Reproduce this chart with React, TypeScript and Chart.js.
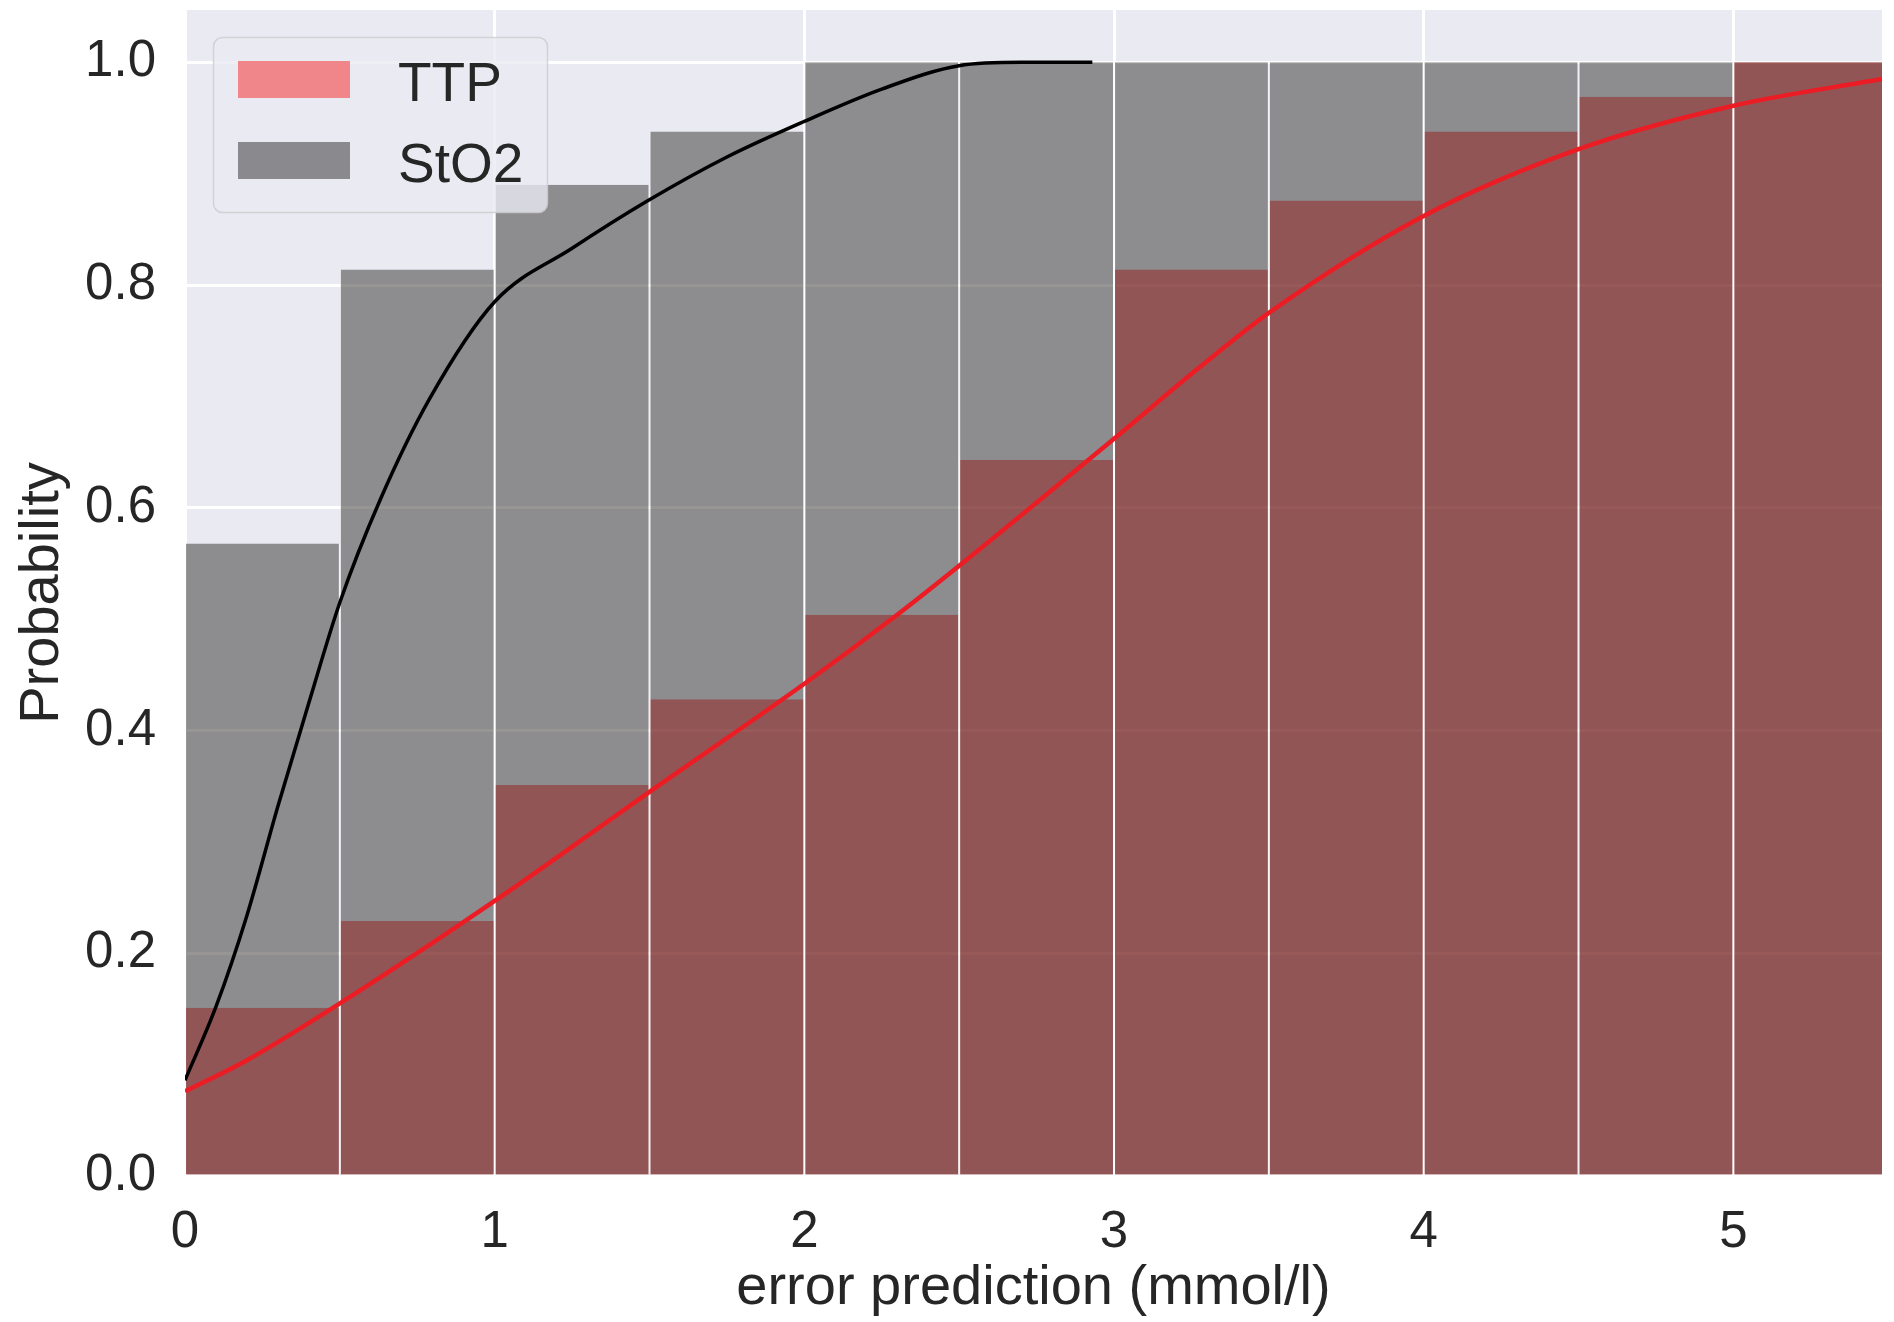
import React, { useEffect, useRef } from "react";
import { Chart, registerables } from "chart.js";

Chart.register(...registerables);

// ---- data ----
const binCenters = [0.25, 0.75, 1.25, 1.75, 2.25, 2.75, 3.25, 3.75, 4.25, 4.75, 5.25];
const ttpValues = [0.151, 0.229, 0.351, 0.428, 0.504, 0.643, 0.814, 0.876, 0.938, 0.969, 1.0];
const sto2Values = [0.568, 0.814, 0.89, 0.938, 1.0, 1.0, 1.0, 1.0, 1.0, 1.0, 1.0];

const sto2CurveX = [0, 0.1, 0.2, 0.3, 0.4, 0.5, 0.63, 0.79, 1.0, 1.25, 1.49, 1.75, 2.0, 2.25, 2.5, 2.7, 2.93];
const sto2CurveY = [0.086, 0.152, 0.234, 0.332, 0.425, 0.515, 0.607, 0.698, 0.785, 0.833, 0.875, 0.915, 0.947, 0.976, 0.997, 1.0, 1.0];

const ttpCurveX = [0, 0.2, 0.5, 1.0, 1.5, 2.0, 2.3, 2.5, 3.0, 3.28, 3.5, 4.0, 4.5, 5.0, 5.48];
const ttpCurveY = [0.076, 0.104, 0.155, 0.247, 0.345, 0.442, 0.504, 0.548, 0.662, 0.727, 0.775, 0.862, 0.922, 0.961, 0.985];

const xTicks = [0, 1, 2, 3, 4, 5];
const yTicks = [0, 0.2, 0.4, 0.6, 0.8, 1.0];
const seriesNames = ["TTP", "StO2"];
const xTitle = "error prediction (mmol/l)";
const yTitle = "Probability";

const FONT = "'Liberation Sans', Arial, Helvetica, sans-serif";
const TEXT = "#262626";

const bgPlugin = {
  id: "plotBg",
  beforeDraw(chart: any) {
    const { ctx, chartArea } = chart;
    ctx.save();
    ctx.fillStyle = "#eaeaf2";
    ctx.fillRect(chartArea.left, chartArea.top, chartArea.right - chartArea.left, chartArea.bottom - chartArea.top);
    ctx.restore();
  },
};

const legendPlugin = {
  id: "insideLegend",
  afterDatasetsDraw(chart: any) {
    const ctx = chart.ctx;
    ctx.save();
    const x = 213.5, y = 37.5, w = 334, h = 175, r = 9;
    ctx.beginPath();
    ctx.roundRect(x, y, w, h, r);
    ctx.fillStyle = "rgba(234,234,242,0.8)";
    ctx.fill();
    ctx.lineWidth = 1.5;
    ctx.strokeStyle = "rgba(204,204,204,0.8)";
    ctx.stroke();
    const patchColors = ["#f0868a", "#8a898e"];
    const rows = [61, 142];
    ctx.font = `55px ${FONT}`;
    ctx.textBaseline = "alphabetic";
    ctx.textAlign = "left";
    seriesNames.forEach((name, i) => {
      ctx.fillStyle = patchColors[i];
      ctx.fillRect(238, rows[i], 112, 37);
      ctx.fillStyle = TEXT;
      ctx.fillText(name, 398, rows[i] + 40);
    });
    ctx.restore();
  },
};

export default function App() {
  const ref = useRef<HTMLCanvasElement | null>(null);

  useEffect(() => {
    document.body.style.margin = "0";
    const canvas = ref.current;
    if (!canvas) return;

    const chart = new Chart(canvas, {
      type: "bar",
      data: {
        datasets: [
          {
            type: "line",
            label: "StO2 curve",
            data: sto2CurveX.map((x, i) => ({ x, y: sto2CurveY[i] })),
            borderColor: "#000000",
            borderWidth: 3.5,
            pointRadius: 0,
            cubicInterpolationMode: "monotone",
            fill: false,
            order: 0,
          } as any,
          {
            type: "line",
            label: "TTP curve",
            data: ttpCurveX.map((x, i) => ({ x, y: ttpCurveY[i] })),
            borderColor: "#ec1c24",
            borderWidth: 4.5,
            pointRadius: 0,
            cubicInterpolationMode: "monotone",
            fill: false,
            order: 0,
          } as any,
          {
            type: "bar",
            label: seriesNames[1],
            data: binCenters.map((x, i) => ({ x, y: sto2Values[i] })),
            backgroundColor: "rgba(58,57,55,0.53)",
            borderColor: "rgba(255,255,255,0.6)",
            borderWidth: { left: 1, right: 1, top: 0, bottom: 0 },
            borderSkipped: false,
            inflateAmount: 0,
            barPercentage: 1,
            categoryPercentage: 1,
            grouped: false,
            order: 1,
          } as any,
          {
            type: "bar",
            label: seriesNames[0],
            data: binCenters.map((x, i) => ({ x, y: ttpValues[i] })),
            backgroundColor: "rgba(255,0,0,0.5)",
            borderColor: "rgba(255,255,255,0.5)",
            borderWidth: { left: 1, right: 1, top: 0, bottom: 0 },
            borderSkipped: false,
            inflateAmount: 0,
            barPercentage: 1,
            categoryPercentage: 1,
            grouped: false,
            order: 2,
          } as any,
        ],
      },
      options: {
        responsive: false,
        devicePixelRatio: 1,
        animation: false,
        events: [],
        layout: { padding: { top: 10, right: 12, left: 0, bottom: 0 } },
        plugins: {
          legend: { display: false },
          tooltip: { enabled: false },
        },
        scales: {
          x: {
            type: "linear",
            min: 0,
            max: 5.48,
            offset: false,
            grid: { color: "#ffffff", lineWidth: 3, drawTicks: false, offset: false },
            border: { display: false },
            ticks: {
              includeBounds: false,
              font: { size: 51, family: FONT },
              color: TEXT,
              padding: 26,
              maxRotation: 0,
              callback: (v: any) => String(v),
            },
            afterBuildTicks: (s: any) => {
              s.ticks = xTicks.map((v) => ({ value: v }));
            },
            title: {
              display: true,
              text: xTitle,
              color: TEXT,
              font: { size: 56, family: FONT },
              padding: { top: 0, bottom: 0 },
            },
            afterFit: (s: any) => {
              s.height = 146;
              s.paddingLeft = 0;
              s.paddingRight = 0;
              s.paddingTop = 0;
              s.paddingBottom = 0;
            },
          } as any,
          y: {
            type: "linear",
            min: 0,
            max: 1.047,
            grid: { color: "#ffffff", lineWidth: 3, drawTicks: false },
            border: { display: false },
            ticks: {
              includeBounds: false,
              font: { size: 51, family: FONT },
              color: TEXT,
              padding: 29,
              callback: (v: any) => Number(v).toFixed(1),
            },
            afterBuildTicks: (s: any) => {
              s.ticks = yTicks.map((v) => ({ value: v }));
            },
            title: {
              display: true,
              text: yTitle,
              color: TEXT,
              font: { size: 56, family: FONT },
              padding: { top: 9, bottom: 0 },
            },
            afterFit: (s: any) => {
              s.width = 185;
              s.paddingLeft = 0;
              s.paddingRight = 0;
              s.paddingTop = 0;
              s.paddingBottom = 0;
            },
          } as any,
        },
      },
      plugins: [bgPlugin, legendPlugin],
    });

    return () => chart.destroy();
  }, []);

  return (
    <div style={{ position: "absolute", left: 0, top: 0, width: 1894, height: 1322, background: "#ffffff" }}>
      <canvas ref={ref} width={1894} height={1322} style={{ display: "block", width: 1894, height: 1322 }} />
    </div>
  );
}
